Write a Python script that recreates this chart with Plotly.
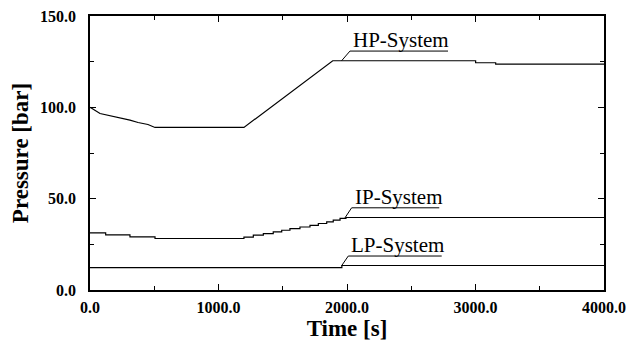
import plotly.graph_objects as go

# ---- data ----
hp_time = [0, 16, 78, 181, 311, 374, 451, 506, 1198, 1889, 1958, 3001, 3001, 3157, 3157, 4000]
hp_pressure = [100.0, 99.4, 96.6, 95.1, 93.0, 91.7, 90.6, 89.0, 89.0, 125.5, 125.5, 125.5, 124.4, 124.4, 123.6, 123.6]

ip_time = [0, 122, 311, 506, 1198, 1271, 1349, 1426, 1492, 1556, 1634, 1712, 1777, 1842, 1893, 1946, 1992, 4000]
ip_pressure = [31.3, 30.2, 29.1, 28.2, 29.0, 30.0, 30.9, 31.8, 32.7, 33.6, 34.5, 35.4, 36.4, 37.3, 38.3, 39.2, 39.7, 39.7]

lp_time = [0, 1960, 4000]
lp_pressure = [12.3, 13.4, 13.4]

x_ticks = [0, 1000, 2000, 3000, 4000]
y_ticks = [0, 50, 100, 150]

labels = ["HP-System", "IP-System", "LP-System"]
# leader line: start (t, p) on curve, end (t, p) where the underline begins, underline end t
leader_start = [(1958, 125.5), (1984, 39.5), (1958, 13.3)]
leader_end = [(2023, 130.8), (2036, 45.0), (2010, 18.6)]
underline_end = [2786, 2718, 2737]

FONT = "Liberation Serif"

fig = go.Figure()
line = dict(color="black", width=1.2)
fig.add_trace(go.Scatter(x=hp_time, y=hp_pressure, mode="lines", line=line, showlegend=False))
fig.add_trace(go.Scatter(x=ip_time, y=ip_pressure, mode="lines", line=dict(line, shape="hv"), showlegend=False))
fig.add_trace(go.Scatter(x=lp_time, y=lp_pressure, mode="lines", line=dict(line, shape="hv"), showlegend=False))

for name, (x0, y0), (x1, y1), xe in zip(labels, leader_start, leader_end, underline_end):
    fig.add_shape(type="line", x0=x0, y0=y0, x1=x1, y1=y1, xref="x", yref="y",
                  line=dict(color="black", width=1))
    fig.add_shape(type="line", x0=x1, y0=y1, x1=xe, y1=y1, xref="x", yref="y",
                  line=dict(color="black", width=1))
    fig.add_annotation(x=x1, y=y1, xref="x", yref="y", text=name, showarrow=False,
                       xanchor="left", yanchor="bottom", xshift=1, yshift=-3,
                       font=dict(family=FONT, size=21, color="black"))

axis_common = dict(
    showgrid=False, zeroline=False, showline=True, linecolor="black", linewidth=1.5,
    mirror="ticks", ticks="inside", ticklen=6, tickwidth=1, tickcolor="black",
    tickfont=dict(family=FONT, size=16, color="black"), automargin=False,
    ticklabeloverflow="allow",
    minor=dict(ticks="inside", ticklen=4, tickwidth=1, tickcolor="black"),
)

fig.update_xaxes(range=[0, 4000], tickvals=x_ticks, ticktext=[f"<b>{v:.1f}</b>" for v in x_ticks],
                 minor_dtick=500,
                 title=dict(text="<b>Time [s]</b>", font=dict(family=FONT, size=23, color="black"), standoff=4),
                 ticklabelstandoff=2, **axis_common)
fig.update_yaxes(range=[0, 150], tickvals=y_ticks, ticktext=[f"<b>{v:.1f}</b>" for v in y_ticks],
                 minor_dtick=25,
                 title=dict(text="<b>Pressure [bar]</b>", font=dict(family=FONT, size=23, color="black"), standoff=10),
                 ticklabelstandoff=9, **axis_common)

# page body has an 8px margin, so the figure is offset by 8px
fig.update_layout(
    width=632, height=337,
    margin=dict(l=82, r=36, t=8, b=55),
    font=dict(family=FONT, color="black"),
    paper_bgcolor="white", plot_bgcolor="white",
)

fig.write_html("out.html")
